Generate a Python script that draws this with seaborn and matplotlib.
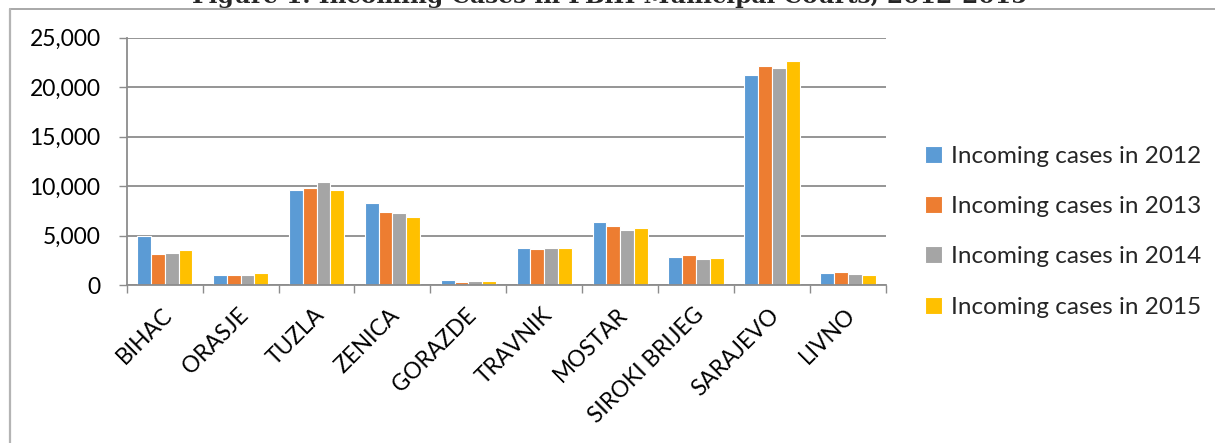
import matplotlib
matplotlib.use("Agg")
import matplotlib.pyplot as plt
import matplotlib.transforms as mtransforms
import seaborn as sns
import pandas as pd
from matplotlib.lines import Line2D
from matplotlib.ticker import FuncFormatter, FixedLocator

courts = ["BIHAC", "ORASJE", "TUZLA", "ZENICA", "GORAZDE", "TRAVNIK",
          "MOSTAR", "SIROKI BRIJEG", "SARAJEVO", "LIVNO"]
series_names = ["Incoming cases in 2012", "Incoming cases in 2013",
                "Incoming cases in 2014", "Incoming cases in 2015"]
cases_2012 = [4950, 1010, 9590, 8310, 505, 3770, 6390, 2860, 21270, 1210]
cases_2013 = [3130, 1040, 9860, 7400, 370, 3670, 5960, 3060, 22110, 1350]
cases_2014 = [3260, 1040, 10400, 7300, 470, 3770, 5590, 2660, 21900, 1180]
cases_2015 = [3600, 1280, 9590, 6900, 470, 3800, 5750, 2720, 22650, 1080]
y_ticks = [0, 5000, 10000, 15000, 20000, 25000]
title_text = "Figure 1. Incoming Cases in FBiH Municipal Courts, 2012-2015"

colors = ["#5B9BD5", "#ED7D31", "#A5A5A5", "#FFC000"]

rows = []
for name, vals in zip(series_names, [cases_2012, cases_2013, cases_2014, cases_2015]):
    for c, v in zip(courts, vals):
        rows.append({"court": c, "series": name, "cases": v})
df = pd.DataFrame(rows)

sns.set_theme(style="white")
plt.rcParams["font.family"] = ["Lato", "DejaVu Sans"]

W, H = 1215, 443
dpi = 100
fig = plt.figure(figsize=(W / dpi, H / dpi), dpi=dpi)
ax = fig.add_axes([126.7 / W, 1 - 285.3 / H, (886 - 126.7) / W, (285.3 - 37.7) / H])

sns.barplot(data=df, x="court", y="cases", hue="series", order=courts,
            hue_order=series_names, palette=colors, width=0.73, ax=ax,
            edgecolor="white", linewidth=0.8, saturation=1, legend=True)

ax.set_xlim(-0.5, len(courts) - 0.5)
ax.set_ylim(0, 25000)
ax.yaxis.set_major_locator(FixedLocator(y_ticks))
ax.yaxis.set_major_formatter(FuncFormatter(lambda v, p: f"{int(v):,}"))
ax.grid(axis="y", color="#8c8c8c", linewidth=1.3)
ax.set_axisbelow(True)
for s in ["top", "right"]:
    ax.spines[s].set_visible(False)
for s in ["left", "bottom"]:
    ax.spines[s].set_color("#8c8c8c")
    ax.spines[s].set_linewidth(1.3)
ax.set_xlabel("")
ax.set_ylabel("")

ax.tick_params(axis="y", which="major", direction="out", length=5.8, width=1.0,
               color="#8c8c8c", pad=13, labelsize=16.5, labelcolor="black", left=True)
ax.set_xticks(range(len(courts)))
ax.set_xticks([i - 0.5 for i in range(len(courts) + 1)], minor=True)
ax.tick_params(axis="x", which="major", length=0, pad=19, labelsize=16.3, labelcolor="black")
ax.tick_params(axis="x", which="minor", direction="out", length=5.8, width=1.0,
               color="#8c8c8c", bottom=True)
ax.set_xticklabels(courts, rotation=45, ha="right", va="center", rotation_mode="anchor")
offset = mtransforms.ScaledTranslation(3.0 / 72, 0, fig.dpi_scale_trans)
for lbl in ax.get_xticklabels():
    lbl.set_transform(lbl.get_transform() + offset)

handles, labels = ax.get_legend_handles_labels()
ax.get_legend().remove()
fig.legend(handles, labels, loc="upper left",
           bbox_to_anchor=(925 / W, 1 - 146 / H), frameon=False,
           fontsize=17.5, handlelength=0.7, handleheight=0.7,
           handletextpad=0.35, labelspacing=1.2, borderpad=0, borderaxespad=0)

# title (partly cut at top edge, as in reference)
t = fig.text(610 / W, 1 - 3.5 / H, title_text, ha="center", va="baseline",
             fontsize=16, fontweight="bold", family=["DejaVu Serif"])
fig.canvas.draw()
bb = t.get_window_extent()
t.set_fontsize(16 * 834 / bb.width)

# outer frame
fig.add_artist(Line2D([10 / W, 1], [1 - 8.5 / H, 1 - 8.5 / H], transform=fig.transFigure,
                      color="#9a9a9a", linewidth=1.2))
fig.add_artist(Line2D([10 / W, 10 / W], [0, 1 - 8.5 / H], transform=fig.transFigure,
                      color="#b4b4b4", linewidth=1.6))

fig.savefig("out.png", dpi=dpi, facecolor="white")
